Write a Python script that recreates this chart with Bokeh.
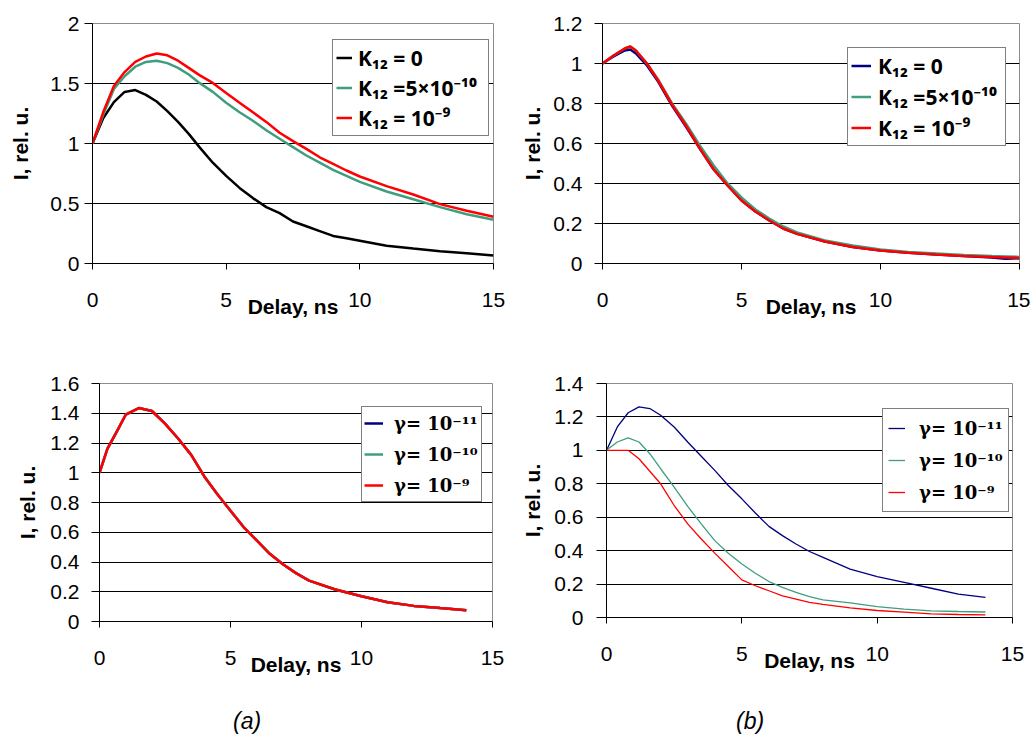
from bokeh.plotting import figure
from bokeh.layouts import column, row
from bokeh.models import (FixedTicker, CustomJSTickFormatter, Legend, LegendItem,
                          Div, Range1d)
from bokeh.embed import file_html
from bokeh.resources import INLINE

# ---------------- data ----------------
# (a) top panel : K12 series
x_a_top = [0, 0.4, 0.8, 1.2, 1.6, 2.0, 2.4, 2.8, 3.2, 3.6, 4.0, 4.5, 5.0, 5.5, 6.0,
           6.5, 7.0, 7.5, 8.0, 8.5, 9.0, 9.5, 10.0, 11.0, 12.0, 13.0, 14.0, 15.0]
a_k12_0 = [1.0, 1.21, 1.345, 1.43, 1.445, 1.405, 1.35, 1.27, 1.18, 1.08, 0.97, 0.84,
           0.73, 0.63, 0.545, 0.47, 0.42, 0.35, 0.31, 0.27, 0.23, 0.21, 0.19, 0.148,
           0.125, 0.103, 0.085, 0.067]
a_k12_5e10 = [1.0, 1.24, 1.455, 1.56, 1.64, 1.68, 1.69, 1.67, 1.63, 1.575, 1.505, 1.43,
              1.34, 1.26, 1.19, 1.11, 1.04, 0.97, 0.90, 0.84, 0.78, 0.73, 0.68, 0.60,
              0.535, 0.47, 0.41, 0.365]
a_k12_1e9 = [1.0, 1.26, 1.48, 1.595, 1.68, 1.725, 1.75, 1.735, 1.69, 1.63, 1.57, 1.505,
             1.42, 1.34, 1.26, 1.18, 1.09, 1.02, 0.955, 0.885, 0.83, 0.775, 0.725, 0.645,
             0.575, 0.495, 0.44, 0.39]

# (b) top panel : K12 series
x_b_top = [0, 0.4, 0.8, 1.0, 1.2, 1.6, 2.0, 2.5, 3.0, 3.5, 4.0, 4.5, 5.0, 5.5, 6.0,
           6.5, 7.0, 8.0, 9.0, 10.0, 11.0, 12.0, 13.0, 14.0, 14.5, 15.0]
b_k12_0 = [1.0, 1.035, 1.065, 1.07, 1.05, 0.99, 0.91, 0.79, 0.685, 0.575, 0.47, 0.39,
           0.315, 0.26, 0.215, 0.175, 0.148, 0.11, 0.083, 0.065, 0.054, 0.045, 0.037,
           0.03, 0.024, 0.026]
b_k12_5e10 = [1.0, 1.04, 1.075, 1.085, 1.065, 1.0, 0.92, 0.80, 0.70, 0.59, 0.49, 0.40,
              0.33, 0.27, 0.225, 0.185, 0.155, 0.115, 0.09, 0.07, 0.058, 0.05, 0.042,
              0.037, 0.035, 0.033]
b_k12_1e9 = [1.0, 1.04, 1.075, 1.085, 1.065, 1.0, 0.915, 0.795, 0.69, 0.575, 0.47, 0.39,
             0.315, 0.26, 0.215, 0.175, 0.148, 0.11, 0.083, 0.065, 0.054, 0.045, 0.037,
             0.032, 0.03, 0.028]

# (a) bottom panel : gamma series (the three curves coincide)
x_a_bot = [0, 0.3, 0.7, 1.0, 1.5, 2.0, 2.5, 3.0, 3.5, 4.0, 4.5, 5.0, 5.5, 6.0, 6.5,
           7.0, 7.5, 8.0, 9.0, 10.0, 11.0, 12.0, 13.0, 14.0]
a_g11 = [1.0, 1.16, 1.29, 1.39, 1.435, 1.415, 1.33, 1.23, 1.12, 0.975, 0.855, 0.745,
         0.635, 0.545, 0.455, 0.385, 0.325, 0.275, 0.215, 0.17, 0.13, 0.105, 0.09, 0.076]
a_g10 = [1.0, 1.16, 1.29, 1.39, 1.435, 1.415, 1.33, 1.23, 1.12, 0.975, 0.855, 0.745,
         0.635, 0.545, 0.455, 0.385, 0.325, 0.275, 0.215, 0.17, 0.13, 0.105, 0.09, 0.076]
a_g9 = [1.0, 1.16, 1.29, 1.39, 1.435, 1.415, 1.33, 1.23, 1.12, 0.975, 0.855, 0.745,
        0.635, 0.545, 0.455, 0.385, 0.325, 0.275, 0.215, 0.17, 0.13, 0.105, 0.09, 0.076]

# (b) bottom panel : gamma series
x_b_bot = [0, 0.4, 0.8, 1.2, 1.6, 2.0, 2.5, 3.0, 3.5, 4.0, 4.5, 5.0, 5.5, 6.0, 6.5,
           7.0, 7.5, 8.0, 9.0, 10.0, 11.0, 12.0, 13.0, 14.0]
b_g11 = [1.0, 1.14, 1.225, 1.26, 1.25, 1.21, 1.14, 1.05, 0.965, 0.88, 0.79, 0.71, 0.625,
         0.545, 0.49, 0.44, 0.395, 0.36, 0.29, 0.245, 0.21, 0.175, 0.14, 0.12]
b_g10 = [1.0, 1.05, 1.075, 1.05, 0.98, 0.89, 0.78, 0.665, 0.56, 0.46, 0.385, 0.32, 0.265,
         0.215, 0.18, 0.15, 0.125, 0.105, 0.088, 0.065, 0.05, 0.04, 0.036, 0.033]
b_g9 = [1.0, 1.0, 1.0, 0.95, 0.875, 0.80, 0.67, 0.56, 0.47, 0.385, 0.305, 0.225, 0.19,
        0.16, 0.13, 0.11, 0.09, 0.078, 0.058, 0.042, 0.032, 0.022, 0.018, 0.016]

x_ticks = [0, 5, 10, 15]
y_ticks_a_top = [0, 0.5, 1, 1.5, 2]
y_ticks_b_top = [0, 0.2, 0.4, 0.6, 0.8, 1, 1.2]
y_ticks_a_bot = [0, 0.2, 0.4, 0.6, 0.8, 1, 1.2, 1.4, 1.6]
y_ticks_b_bot = [0, 0.2, 0.4, 0.6, 0.8, 1, 1.2, 1.4]

labels_k = ["K\u2081\u2082 = 0", "K\u2081\u2082 =5\u00d710\u207b\u00b9\u2070", "K\u2081\u2082 = 10\u207b\u2079"]
labels_g = ["\u03b3= 10\u207b\u00b9\u00b9", "\u03b3= 10\u207b\u00b9\u2070", "\u03b3= 10\u207b\u2079"]
x_title = "Delay, ns"
y_title = "I, rel. u."
captions = ["(a)", "(b)"]

BLACK = "#000000"
GREEN = "#3f9e7e"
RED = "#ff0000"
NAVY = "#000080"
SANS = "Liberation Sans"
LEG_SANS = "Noto Sans"
LEG_SERIF = "DejaVu Serif"

fmt_code = "return String(Math.round(tick*10)/10);"


def panel(fw, fh, bl, br, bt, bb, ymax, yticks, ytick_out, ystand, ylab_stand):
    p = figure(frame_width=fw, frame_height=fh,
               min_border_left=bl, min_border_right=br,
               min_border_top=bt, min_border_bottom=bb,
               x_range=Range1d(0, 15), y_range=Range1d(0, ymax),
               output_backend="svg", toolbar_location=None)
    p.background_fill_color = "white"
    p.border_fill_color = "white"
    p.outline_line_color = "#8c8c8c"
    p.outline_line_width = 1
    p.xgrid.visible = False
    p.ygrid.ticker = FixedTicker(ticks=yticks[:-1])
    p.ygrid.grid_line_color = "black"
    p.ygrid.grid_line_width = 1

    xa = p.xaxis[0]
    xa.ticker = FixedTicker(ticks=x_ticks)
    xa.formatter = CustomJSTickFormatter(code=fmt_code)
    xa.major_tick_out = 6
    xa.major_tick_in = 0
    xa.minor_tick_out = 0
    xa.minor_tick_in = 0
    xa.axis_line_color = "black"
    xa.major_tick_line_color = "black"
    xa.major_label_standoff = 23
    xa.major_label_text_font = SANS
    xa.major_label_text_font_size = "21px"
    xa.major_label_text_color = "black"
    xa.axis_label = x_title
    xa.axis_label_text_font = SANS
    xa.axis_label_text_font_size = "21px"
    xa.axis_label_text_font_style = "bold"
    xa.axis_label_text_color = "black"
    xa.axis_label_standoff = -15

    ya = p.yaxis[0]
    ya.ticker = FixedTicker(ticks=yticks)
    ya.formatter = CustomJSTickFormatter(code=fmt_code)
    ya.major_tick_out = ytick_out
    ya.major_tick_in = 0
    ya.minor_tick_out = 0
    ya.minor_tick_in = 0
    ya.axis_line_color = "black"
    ya.major_tick_line_color = "black"
    ya.major_label_standoff = ystand
    ya.major_label_text_font = SANS
    ya.major_label_text_font_size = "21px"
    ya.major_label_text_color = "black"
    ya.axis_label = y_title
    ya.axis_label_text_font = SANS
    ya.axis_label_text_font_size = "21px"
    ya.axis_label_text_font_style = "bold"
    ya.axis_label_text_color = "black"
    ya.axis_label_standoff = ylab_stand
    return p


def add_legend(p, renderers, labels, loc, pad, spacing, glyph_w, standoff, label_w,
               font, size, item_h):
    items = [LegendItem(label=l, renderers=[r]) for l, r in zip(labels, renderers)]
    leg = Legend(items=items, location=loc, padding=pad, spacing=spacing, margin=0,
                 glyph_width=glyph_w, glyph_height=item_h, label_height=item_h,
                 label_width=label_w, label_standoff=standoff,
                 label_text_font=font, label_text_font_size=size,
                 label_text_font_style="bold", label_text_color="black",
                 border_line_color="black", border_line_width=1,
                 background_fill_color="white", background_fill_alpha=1)
    p.add_layout(leg)


# ---- (a) top ----
p1 = panel(401, 240, 92, 25, 23, 67, 2, y_ticks_a_top, 8, 5, 15)
r1 = [p1.line(x_a_top, a_k12_0, line_color=BLACK, line_width=2.5),
      p1.line(x_a_top, a_k12_5e10, line_color=GREEN, line_width=2.5),
      p1.line(x_a_top, a_k12_1e9, line_color=RED, line_width=2.5)]
add_legend(p1, r1, labels_k, (240, 127), 3, 1, 16, 6, 127, LEG_SANS, "21px", 29)

# ---- (b) top ----
p2 = panel(417, 240, 82, 11, 23, 67, 1.2, y_ticks_b_top, 8, 12, 6)
r2 = [p2.line(x_b_top, b_k12_0, line_color=NAVY, line_width=2.5),
      p2.line(x_b_top, b_k12_5e10, line_color=GREEN, line_width=2.5),
      p2.line(x_b_top, b_k12_1e9, line_color=RED, line_width=2.5)]
add_legend(p2, r2, labels_k, (245, 117), 3, 2, 20, 7, 124, LEG_SANS, "21px", 29)

# ---- (a) bottom ----
p3 = panel(393, 238, 99, 26, 53, 60, 1.6, y_ticks_a_bot, 8, 12, 8)
r3 = [p3.line(x_a_bot, a_g11, line_color=NAVY, line_width=2.5),
      p3.line(x_a_bot, a_g10, line_color=GREEN, line_width=2.5),
      p3.line(x_a_bot, a_g9, line_color=RED, line_width=2.5)]
add_legend(p3, r3, labels_g, (262, 119), 2, 3, 19, 11, 85, LEG_SERIF, "18px", 28)

# ---- (b) bottom ----
p4 = panel(406, 234, 85, 19, 53, 64, 1.4, y_ticks_b_bot, 10, 13, 7)
r4 = [p4.line(x_b_bot, b_g11, line_color=NAVY, line_width=1.3),
      p4.line(x_b_bot, b_g10, line_color=GREEN, line_width=1.3),
      p4.line(x_b_bot, b_g9, line_color=RED, line_width=1.3)]
add_legend(p4, r4, labels_g, (276, 105), 5, 4, 17, 14, 82, LEG_SERIF, "18px", 28)

cap = Div(text=(
    '<div style="position:relative;width:1028px;height:54px;'
    "font-family:'Liberation Sans',Arial,sans-serif;font-style:italic;font-size:23px;color:#000;\">"
    '<span style="position:absolute;left:233px;top:24px;">' + captions[0] + '</span>'
    '<span style="position:absolute;left:736px;top:24px;">' + captions[1] + '</span></div>'),
    width=1028, height=54, margin=0)

layout = column(row(p1, p2), row(p3, p4), cap)

open("out.html", "w").write(file_html(layout, INLINE))
